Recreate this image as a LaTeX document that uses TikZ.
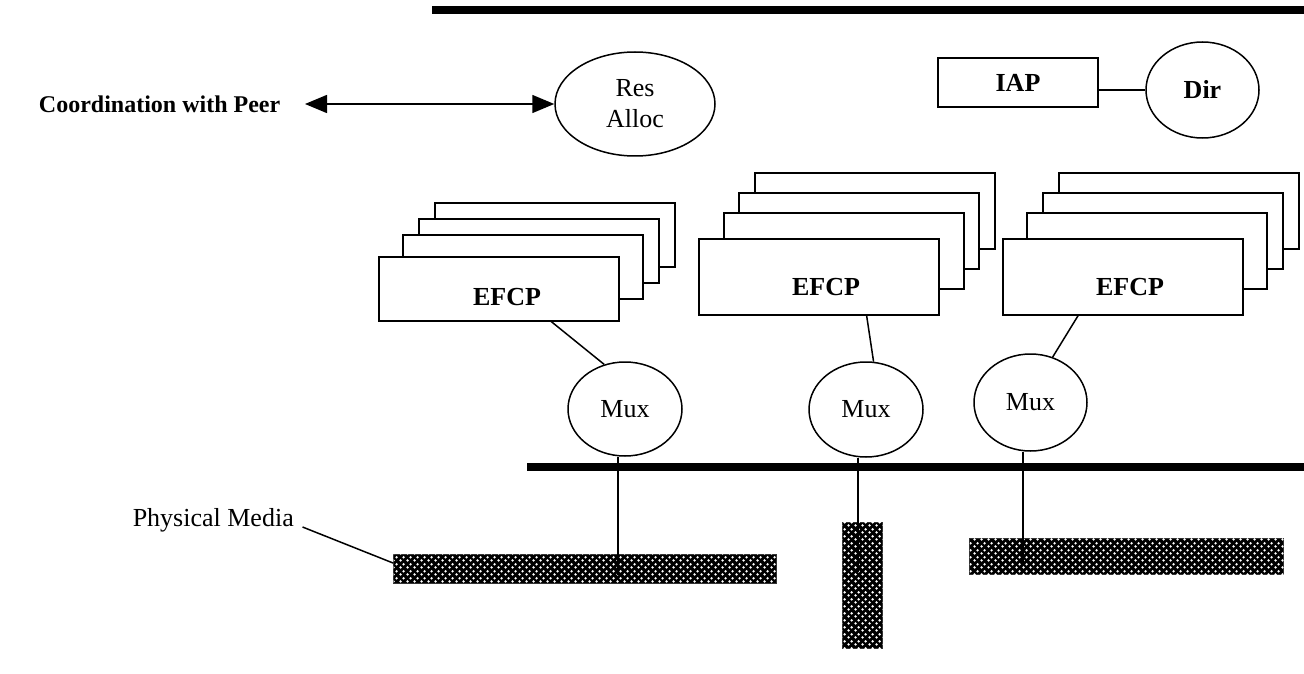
\documentclass[tikz,border=0pt]{standalone}
\usepackage{fontspec}
\setmainfont{Liberation Serif}
\usetikzlibrary{arrows.meta,shapes.geometric,patterns.meta,calc}

\tikzdeclarepattern{
  name=mediadots,
  type=uncolored,
  bounding box={(0pt,0pt) and (7pt,7pt)},
  tile size={(7pt,7pt)},
  code={
    \pgfpathcircle{\pgfqpoint{1.75pt}{1.75pt}}{1.5pt}
    \pgfpathcircle{\pgfqpoint{5.25pt}{5.25pt}}{1.5pt}
    \pgfusepath{fill}
  }
}

\begin{document}
\begin{tikzpicture}[x=1pt,y=-1pt, line width=1.5pt,
  lbl/.style={font=\fontsize{26}{31}\selectfont, inner sep=0pt},
  blbl/.style={font=\fontsize{26}{31}\selectfont\bfseries, inner sep=0pt},
  clbl/.style={font=\fontsize{24}{29}\selectfont\bfseries, inner sep=0pt},
  efcpA/.style={draw, fill=white, minimum width=240, minimum height=64, anchor=north west, inner sep=0pt},
  efcpB/.style={draw, fill=white, minimum width=240, minimum height=76, anchor=north west, inner sep=0pt},
  oval/.style={draw, ellipse, inner sep=0pt},
  media/.style={draw=black!80, line width=1pt, fill=black, postaction={pattern=mediadots, pattern color=white}, inner sep=0pt, anchor=north west},
  thickbar/.style={line width=7.5pt},
  tip/.style={{Triangle[length=22pt,width=18pt]}-{Triangle[length=22pt,width=18pt]}}
]
\useasboundingbox (0,0) rectangle (1304,674);

% top bar
\coordinate (tbL) at (432,10);
\coordinate (tbR) at (1304,10);
\draw[thickbar] (tbL) -- (tbR);

% coordination
\node[clbl, anchor=east] (coord) at (281,104) {Coordination with Peer};
\node[oval, lbl, align=center, minimum width=160, minimum height=104] (res) at (635,104) {Res\\Alloc};
\coordinate (arrL) at (305,104);
\draw[tip] (arrL) -- (res.west);

% IAP / Dir
\node[draw, blbl, minimum width=160, minimum height=49] (iap) at (1018,82.5) {IAP};
\node[oval, blbl, minimum width=113, minimum height=96] (dir) at (1202.5,90) {Dir};
\draw (dir.west -| iap.east) -- (dir.west);

% EFCP stack 1
\node[efcpA] (s1d) at (434,202) {};
\node[efcpA] (s1c) at (418,218) {};
\node[efcpA] (s1b) at (402,234) {};
\node[efcpA] (s1) at (378,256) {};
\node[blbl] (t1) at (507,297) {EFCP};

% EFCP stack 2
\node[efcpB] (s2d) at (754,172) {};
\node[efcpB] (s2c) at (738,192) {};
\node[efcpB] (s2b) at (723,212) {};
\node[efcpB] (s2) at (698,238) {};
\node[blbl] (t2) at (826,287) {EFCP};

% EFCP stack 3
\node[efcpB] (s3d) at (1058,172) {};
\node[efcpB] (s3c) at (1042,192) {};
\node[efcpB] (s3b) at (1026,212) {};
\node[efcpB] (s3) at (1002,238) {};
\node[blbl] (t3) at (1130,287) {EFCP};

% Mux
\node[oval, lbl, minimum width=114, minimum height=94] (mux1) at (625,409) {Mux};
\node[oval, lbl, minimum width=114, minimum height=95] (mux2) at (866,409.5) {Mux};
\node[oval, lbl, minimum width=113, minimum height=97] (mux3) at (1030.5,402.5) {Mux};

\draw (s1.-32.7) -- (mux1.115.6);
\draw (s2.-39.3) -- (mux2.81.6);
\draw (s3.221.5) -- (mux3.64.3);

% bus
\coordinate (busL) at (527,467);
\coordinate (busR) at (1304,467);
\draw[thickbar] (busL) -- (busR);

% physical media
\node[media, minimum width=383, minimum height=29] (bar1) at (393,554) {};
\node[media, minimum width=40, minimum height=126] (bar2) at (842,522) {};
\node[media, minimum width=314, minimum height=36] (bar3) at (969,538) {};

\coordinate (m1e) at (618,575);
\coordinate (m2e) at (858,572);
\coordinate (m3e) at (1023,563);
\draw (m1e |- mux1.south) -- (m1e);
\draw (m2e |- mux2.south) -- (m2e);
\draw (m3e |- mux3.south) -- (m3e);

\node[lbl, anchor=west] (pm) at (132,520) {Physical Media};
\draw ([xshift=8pt,yshift=-7pt]pm.east) -- ([yshift=-9pt]bar1.north west);

\end{tikzpicture}
\end{document}
